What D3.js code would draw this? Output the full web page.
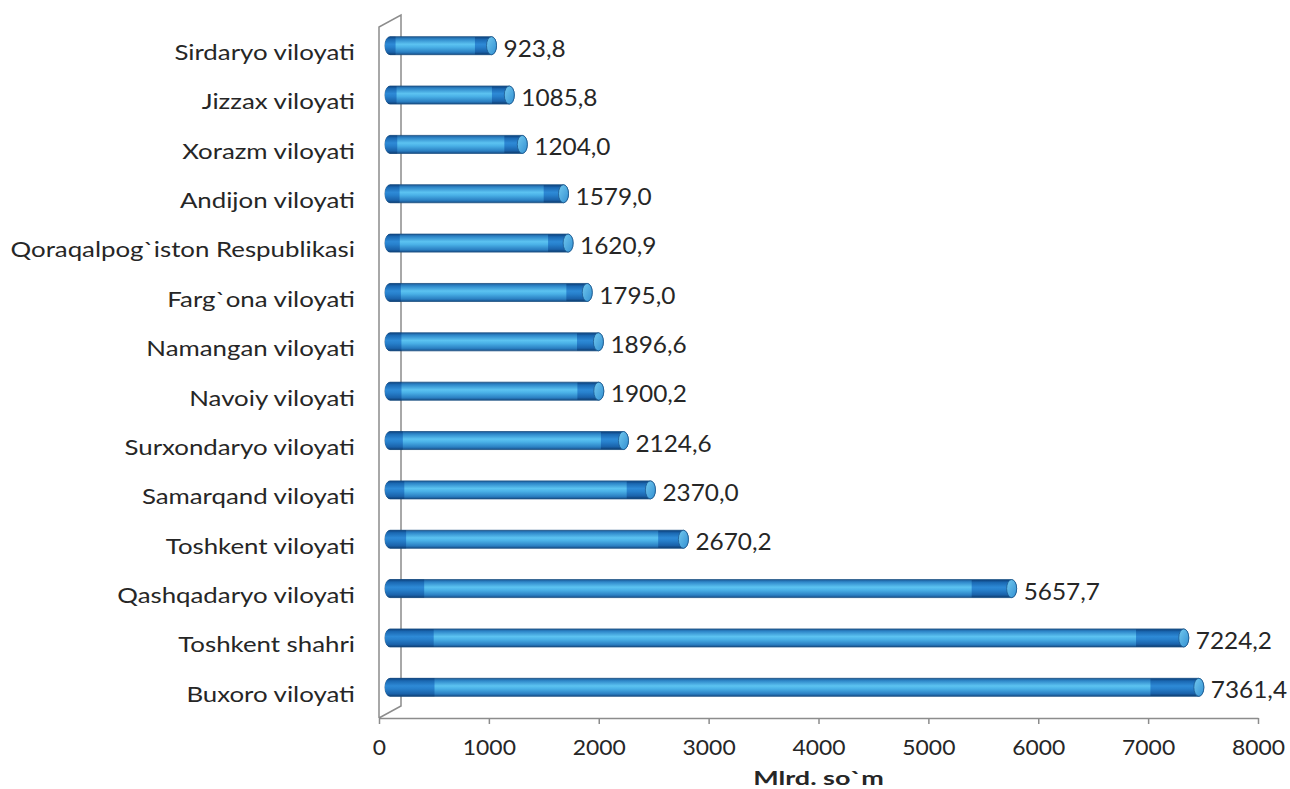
<!DOCTYPE html>
<html>
<head>
<meta charset="utf-8">
<script src="https://cdn.jsdelivr.net/npm/d3@7"></script>
<style>
  html, body { margin: 0; padding: 0; background: #fff; }
  svg { display: block; font-family: Lato, "Open Sans", sans-serif; }
</style>
</head>
<body>
<svg id="chart" width="1290" height="789"></svg>
<script>
// Regions (bottom to top as drawn) and their values, Mlrd. so`m
const regions = [
  'Buxoro viloyati', 'Toshkent shahri', 'Qashqadaryo viloyati', 'Toshkent viloyati',
  'Samarqand viloyati', 'Surxondaryo viloyati', 'Navoiy viloyati', 'Namangan viloyati',
  "Farg`ona viloyati", 'Qoraqalpog`iston Respublikasi', 'Andijon viloyati',
  'Xorazm viloyati', 'Jizzax viloyati', 'Sirdaryo viloyati'
];
const values = [7361.4, 7224.2, 5657.7, 2670.2, 2370.0, 2124.6, 1900.2, 1896.6,
  1795.0, 1620.9, 1579.0, 1204.0, 1085.8, 923.8];
const xTicks = [0, 1000, 2000, 3000, 4000, 5000, 6000, 7000, 8000];
const axisTitle = 'Mlrd. so`m';

const svg = d3.select('#chart');
const floorY = 718, topY = 27;
const depth = { dx: 22, dy: -12 };
const barH = 18;
const grey = '#8c8c8c', ink = '#262626';

const x = d3.scaleLinear().domain([0, 8000]).range([379, 1258]);
const y = d3.scaleBand().domain(regions).range([floorY, topY]);

const fmt = v => v.toFixed(1).replace('.', ',');

// ── gradients ──
const defs = svg.append('defs');
function vGrad(id, stops) {
  const g = defs.append('linearGradient').attr('id', id)
    .attr('x1', 0).attr('y1', 0).attr('x2', 0).attr('y2', 1);
  stops.forEach(([o, c]) => g.append('stop').attr('offset', o).attr('stop-color', c));
}
vGrad('cyl', [['0%', '#1d5e9c'], ['14%', '#2f88ca'], ['42%', '#5cc3f1'], ['58%', '#4ab1e7'],
  ['86%', '#2b80c3'], ['100%', '#17508a']]);
vGrad('cylDark', [['0%', '#0e437e'], ['14%', '#1a68b2'], ['42%', '#2e8ad6'], ['58%', '#2780cc'],
  ['86%', '#1a62aa'], ['100%', '#0e3f74']]);
const capG = defs.append('linearGradient').attr('id', 'cap')
  .attr('x1', 0).attr('y1', 0).attr('x2', 1).attr('y2', 1);
[['0%', '#72c9ef'], ['100%', '#3390d2']]
  .forEach(([o, c]) => capG.append('stop').attr('offset', o).attr('stop-color', c));

// ── walls ──
const x0 = x(0);
svg.append('path')
  .attr('fill', 'none').attr('stroke', grey).attr('stroke-width', 1.5)
  .attr('d', `M${x0},${floorY}V${topY}L${x0 + depth.dx},${topY + depth.dy}V${floorY + depth.dy}L${x0},${floorY}`);

// x axis
const axis = svg.append('g').attr('transform', `translate(0,${floorY})`)
  .call(d3.axisBottom(x).tickValues(xTicks).tickFormat(d3.format('d')).tickSize(6).tickSizeOuter(0));
axis.select('.domain').attr('stroke', grey).attr('stroke-width', 1.5);
axis.selectAll('.tick line').attr('stroke', grey).attr('stroke-width', 1.5);
axis.selectAll('.tick text')
  .attr('y', 0).attr('dy', 0)
  .attr('transform', 'translate(0,37) scale(1.09,1)')
  .attr('font-size', 21).attr('fill', ink)
  .attr('font-family', 'Lato, sans-serif');

svg.append('text')
  .attr('transform', `translate(${(x(0) + x(8000)) / 2},785) scale(1.42,1)`)
  .attr('text-anchor', 'middle').attr('font-size', 19).attr('font-weight', 'bold')
  .attr('fill', ink).text(axisTitle);

// category labels
svg.append('g').selectAll('text').data(regions).join('text')
  .attr('transform', d => `translate(355,${y(d) + y.bandwidth() / 2 + 1}) scale(1.23,1)`)
  .attr('dy', '0.35em')
  .attr('text-anchor', 'end')
  .attr('font-size', 21)
  .attr('fill', ink)
  .text(d => d);

// ── cylinder bars ──
const data = regions.map((r, i) => ({ r, v: values[i] }));
const mx = depth.dx / 2, my = depth.dy / 2;
const rx = 5, h = barH / 2;

const bar = svg.append('g').selectAll('g').data(data).join('g')
  .attr('transform', d => `translate(0,${y(d.r) + y.bandwidth() / 2 + my})`);

const a = x(0) + mx;
const len = d => x(d.v) - x(0);

bar.append('path')
  .attr('d', d => {
    const b = x(d.v) + mx;
    return `M${a},${-h}H${b}A${rx},${h} 0 0 1 ${b},${h}H${a}A${rx},${h} 0 0 1 ${a},${-h}Z`;
  })
  .attr('fill', 'url(#cyl)')
  .attr('stroke', '#1c4f80').attr('stroke-width', 0.8);

// darker shading near both ends
bar.append('path')
  .attr('d', d => {
    const w = len(d) * 0.055;
    return `M${a},${-h}H${a + w}V${h}H${a}A${rx},${h} 0 0 1 ${a},${-h}Z`;
  })
  .attr('fill', 'url(#cylDark)');
bar.append('rect')
  .attr('x', d => x(d.v) + mx - (12 + len(d) * 0.045))
  .attr('y', -h + 0.4)
  .attr('width', d => 12 + len(d) * 0.045)
  .attr('height', barH - 0.8)
  .attr('fill', 'url(#cylDark)');

bar.append('ellipse')
  .attr('cx', d => x(d.v) + mx)
  .attr('cy', 0)
  .attr('rx', rx)
  .attr('ry', h)
  .attr('fill', 'url(#cap)')
  .attr('stroke', '#1c5a92').attr('stroke-width', 0.8);

// value labels
bar.append('text')
  .attr('transform', d => `translate(${x(d.v) + mx + rx + 7},3) scale(1.06,1)`)
  .attr('dy', '0.35em')
  .attr('font-size', 23)
  .attr('fill', ink)
  .text(d => fmt(d.v));
</script>
</body>
</html>
